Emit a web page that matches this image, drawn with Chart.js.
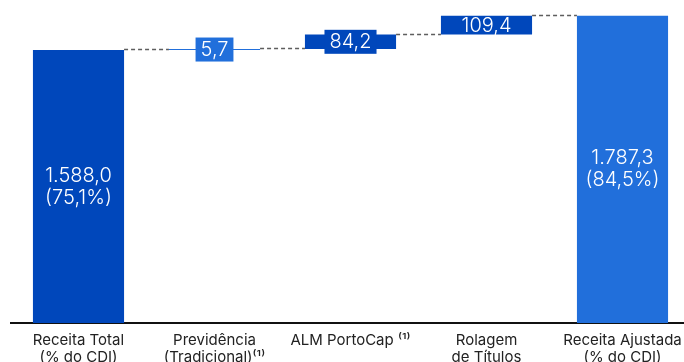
<!DOCTYPE html>
<html>
<head>
<meta charset="utf-8">
<script src="https://cdn.jsdelivr.net/npm/chart.js@4.4.1/dist/chart.umd.min.js"></script>
<style>
  html, body { margin: 0; padding: 0; background: #ffffff; overflow: hidden; }
  #wrap { position: relative; width: 692px; height: 362px; }
</style>
</head>
<body>
<div id="wrap"><canvas id="chart"></canvas></div>
<script>
// Waterfall: receita total -> ajustes -> receita ajustada (R$ milhões)
const categories = [
  ['Receita Total', '(% do CDI)'],
  ['Previdência', '(Tradicional)⁽¹⁾'],
  ['ALM PortoCap ⁽¹⁾'],
  ['Rolagem', 'de Títulos'],
  ['Receita Ajustada', '(% do CDI)']
];
const amounts = [1588.0, 5.7, 84.2, 109.4, 1787.3];
const isTotal = [true, false, false, false, true];
const cdiShare = ['75,1%', null, null, null, '84,5%'];

const DARK = '#0047BB';
const LIGHT = '#216FDB';
const barColors = [DARK, LIGHT, DARK, DARK, LIGHT];

// floating ranges built from the running total
const ranges = [];
const levels = [];
let running = 0;
amounts.forEach((v, i) => {
  if (isTotal[i]) {
    ranges.push([0, v]);
    running = v;
  } else {
    ranges.push([running, running + v]);
    running += v;
  }
  levels.push(running);
});

function fmt(v) {
  const parts = v.toFixed(1).split('.');
  parts[0] = parts[0].replace(/\B(?=(\d{3})+(?!\d))/g, '.');
  return parts.join(',');
}

const FONT = 'Inter, "Noto Sans", sans-serif';

const waterfallDecor = {
  id: 'waterfallDecor',
  beforeDatasetsDraw(chart) {
    const ctx = chart.ctx;
    const meta = chart.getDatasetMeta(0);
    const y = chart.scales.y;
    ctx.save();
    ctx.strokeStyle = '#5e5e5e';
    ctx.lineWidth = 1.3;
    ctx.setLineDash([4, 3]);
    for (let i = 0; i < meta.data.length - 1; i++) {
      const a = meta.data[i], b = meta.data[i + 1];
      const py = Math.round(y.getPixelForValue(levels[i])) - 0.5;
      ctx.beginPath();
      ctx.moveTo(a.x + a.width / 2, py);
      ctx.lineTo(b.x - b.width / 2, py);
      ctx.stroke();
    }
    ctx.restore();
  },
  afterDatasetsDraw(chart) {
    const ctx = chart.ctx;
    const meta = chart.getDatasetMeta(0);
    ctx.save();
    ctx.textAlign = 'center';
    ctx.textBaseline = 'middle';
    ctx.font = '300 20px ' + FONT;
    meta.data.forEach((bar, i) => {
      const top = Math.min(bar.y, bar.base);
      const bottom = Math.max(bar.y, bar.base);
      const cy = (top + bottom) / 2;
      const value = fmt(amounts[i]);
      if (isTotal[i]) {
        ctx.fillStyle = '#ffffff';
        ctx.fillText(value, bar.x, cy - 11);
        ctx.fillText('(' + cdiShare[i] + ')', bar.x, cy + 11);
      } else {
        const w = ctx.measureText(value).width;
        if (bottom - top < 16) {
          ctx.fillStyle = barColors[i];
          ctx.fillRect(bar.x - w / 2 - 5, cy - 12, w + 10, 24);
        }
        ctx.fillStyle = '#ffffff';
        ctx.fillText(value, bar.x, cy + 0.5);
      }
    });
    ctx.restore();
  }
};

new Chart(document.getElementById('chart'), {
  type: 'bar',
  data: {
    labels: categories,
    datasets: [{
      data: ranges,
      backgroundColor: barColors,
      borderWidth: 0,
      borderSkipped: false,
      categoryPercentage: 1,
      barPercentage: 0.67
    }]
  },
  options: {
    responsive: true,
    maintainAspectRatio: false,
    animation: false,
    layout: { padding: { left: 10.5, right: 1.5, top: 0, bottom: 0 } },
    plugins: {
      legend: { display: false },
      tooltip: { enabled: false }
    },
    scales: {
      x: {
        grid: { display: false, drawTicks: false },
        border: { display: true, color: '#111111', width: 2 },
        afterFit(scale) { scale.height = 39; scale.paddingRight = 0; scale.paddingLeft = 0; },
        ticks: {
          color: '#222222',
          font: { family: FONT, size: 15, lineHeight: 1.133 },
          padding: 9,
          maxRotation: 0,
          autoSkip: false
        }
      },
      y: {
        display: false,
        min: 0,
        max: 1879
      }
    }
  },
  plugins: [waterfallDecor]
});
</script>
</body>
</html>
